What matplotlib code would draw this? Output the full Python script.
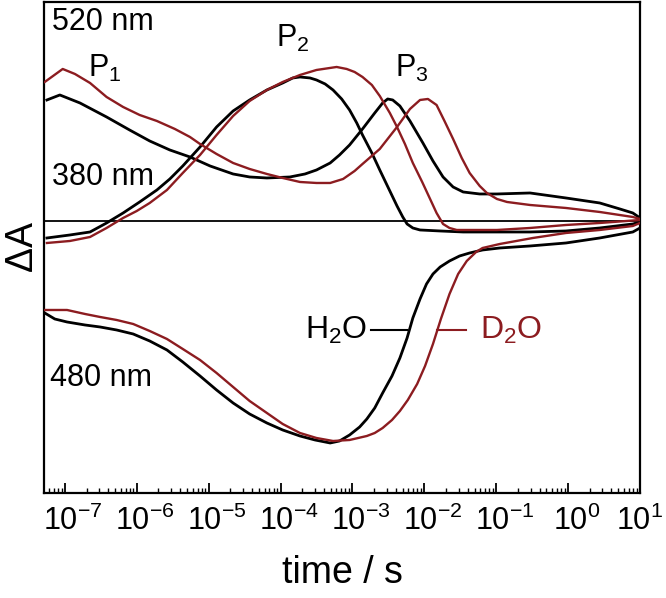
import numpy as np
import matplotlib.pyplot as plt
from matplotlib.ticker import FixedLocator, FixedFormatter, NullFormatter
from matplotlib.transforms import ScaledTranslation

plt.rcParams['font.family'] = ['Liberation Sans', 'DejaVu Sans']
plt.rcParams['mathtext.fontset'] = 'custom'
plt.rcParams['mathtext.rm'] = 'Liberation Sans'
plt.rcParams['mathtext.it'] = 'Liberation Sans:italic'
plt.rcParams['mathtext.default'] = 'regular'

RED = '#8c1c20'

# transients: log10(time / s) and dA (arb. units)
# 520 nm
lt_520_h2o = [-7.25, -7.07, -6.79, -6.42, -6.10, -5.82, -5.54, -5.26, -4.98, -4.66, -4.43,
              -4.19, -3.87, -3.66, -3.50, -3.31, -3.18, -3.04, -2.86, -2.69, -2.58, -2.51,
              -2.44, -2.34, -2.20, -2.02, -1.88, -1.74, -1.60, -1.46, -1.23, -0.99, -0.53,
              -0.03, 0.44, 0.72, 0.90, 1.00]
da_520_h2o = [121, 126, 118, 104, 91, 80, 71, 64, 55, 47, 44, 43, 44, 47, 51, 58, 66, 76, 92,
              108, 118, 122, 121, 115, 100, 78, 60, 44, 34, 29, 27, 27, 28, 23, 18, 12, 8, 3]
lt_520_d2o = [-7.28, -7.03, -6.86, -6.65, -6.42, -6.19, -5.96, -5.72, -5.47, -5.26, -5.12,
              -4.89, -4.66, -4.43, -4.19, -3.97, -3.73, -3.50, -3.31, -3.13, -2.97, -2.86,
              -2.62, -2.38, -2.20, -2.06, -1.95, -1.83, -1.72, -1.60, -1.48, -1.37, -1.23,
              -1.13, -0.99, -0.85, -0.53, -0.03, 0.44, 0.90, 1.00]
da_520_d2o = [139, 152, 147, 138, 124, 114, 106, 100, 92, 84, 77, 67, 58, 52, 47, 43, 39, 38,
              38, 42, 50, 57, 72, 94, 112, 121, 122, 116, 100, 82, 63, 48, 35, 28, 22, 19,
              16, 13, 9, 4, 2]

# 380 nm
lt_380_h2o = [-7.25, -6.93, -6.65, -6.42, -6.19, -5.96, -5.72, -5.54, -5.36, -5.12, -4.89,
              -4.66, -4.43, -4.19, -3.97, -3.83, -3.73, -3.59, -3.50, -3.38, -3.27, -3.15,
              -3.04, -2.94, -2.86, -2.73, -2.62, -2.48, -2.38, -2.30, -2.24, -2.16, -2.06,
              -1.78, -1.46, -0.53, -0.03, 0.44, 0.90, 1.00]
da_380_h2o = [-17, -14, -11, -2, 8, 19, 31, 42, 55, 74, 94, 110, 121, 131, 138, 143, 144, 143,
              141, 137, 131, 122, 111, 98, 86, 68, 51, 30, 15, 4, -3, -7, -9, -10, -11, -11,
              -10, -7, -3, -1]
lt_380_d2o = [-7.25, -6.93, -6.65, -6.42, -6.19, -6.00, -5.82, -5.58, -5.36, -5.12, -4.89,
              -4.66, -4.43, -4.19, -3.97, -3.73, -3.50, -3.22, -3.08, -2.97, -2.86, -2.73,
              -2.62, -2.48, -2.38, -2.27, -2.16, -2.03, -1.92, -1.83, -1.74, -1.65, -1.55,
              -0.99, -0.53, -0.03, 0.44, 1.00]
da_380_d2o = [-22, -20, -16, -7, 3, 10, 18, 31, 48, 66, 86, 105, 120, 131, 139, 146, 151, 154,
              152, 149, 144, 136, 125, 108, 94, 77, 58, 39, 22, 8, -3, -7, -9, -9, -7, -4,
              -2, 1]

# 480 nm
lt_480_h2o = [-7.28, -7.14, -6.97, -6.72, -6.51, -6.28, -6.05, -5.82, -5.58, -5.36, -5.12,
              -4.89, -4.66, -4.43, -4.19, -3.97, -3.73, -3.52, -3.31, -3.18, -3.04, -2.90,
              -2.80, -2.69, -2.58, -2.45, -2.34, -2.24, -2.16, -2.06, -1.97, -1.88, -1.78,
              -1.65, -1.51, -1.37, -1.19, -0.95, -0.53, -0.03, 0.44, 0.90, 1.00]
da_480_h2o = [-92, -98, -101, -104, -106, -109, -113, -120, -129, -141, -155, -169, -182, -193,
              -202, -209, -215, -219, -222, -220, -214, -206, -198, -187, -172, -155, -137,
              -117, -97, -78, -63, -53, -46, -40, -35, -32, -29, -27, -25, -22, -17, -11, -7]
lt_480_d2o = [-7.28, -6.97, -6.72, -6.51, -6.28, -6.05, -5.82, -5.58, -5.36, -5.12, -4.89,
              -4.66, -4.43, -4.19, -3.97, -3.73, -3.50, -3.27, -3.04, -2.80, -2.69, -2.58,
              -2.45, -2.34, -2.23, -2.10, -1.99, -1.88, -1.77, -1.65, -1.53, -1.41, -1.28,
              -1.19, -0.95, -0.49, -0.03, 0.44, 0.90, 1.00]
da_480_d2o = [-89, -89, -93, -96, -99, -103, -110, -118, -128, -139, -152, -166, -180, -192,
              -203, -212, -217, -220, -219, -215, -212, -207, -199, -190, -179, -163, -145,
              -123, -98, -73, -53, -40, -31, -27, -23, -17, -12, -9, -5, -2]

tick_pos = [1e-7, 1e-6, 1e-5, 1e-4, 1e-3, 1e-2, 1e-1, 1e0, 1e1]
tick_lab = ['10$^{-7}$', '10$^{-6}$', '10$^{-5}$', '10$^{-4}$', '10$^{-3}$',
            '10$^{-2}$', '10$^{-1}$', '10$^{0}$', '10$^{1}$']
minor_pos = [m * 10.0 ** e for e in range(-8, 1) for m in range(2, 10)]

fig = plt.figure(figsize=(6.66, 5.98), dpi=100)
ax = fig.add_axes([0.0661, 0.1756, 0.8949, 0.8211])

ax.axhline(0, color='black', lw=1.3, zorder=1)

for lt, da in [(lt_520_h2o, da_520_h2o), (lt_380_h2o, da_380_h2o), (lt_480_h2o, da_480_h2o)]:
    ax.plot(10 ** np.array(lt), da, color='black', lw=2.0, zorder=2)
for lt, da in [(lt_520_d2o, da_520_d2o), (lt_380_d2o, da_380_d2o), (lt_480_d2o, da_480_d2o)]:
    ax.plot(10 ** np.array(lt), da, color=RED, lw=1.7, zorder=3)

ax.set_xscale('log')
ax.set_xlim(10 ** -7.29, 10)
ax.set_ylim(-272, 219)

ax.xaxis.set_major_locator(FixedLocator(tick_pos))
ax.xaxis.set_major_formatter(FixedFormatter(tick_lab))
ax.xaxis.set_minor_locator(FixedLocator(minor_pos))
ax.xaxis.set_minor_formatter(NullFormatter())
ax.tick_params(axis='x', which='major', direction='in', length=7, width=1.3,
               labelsize=22, pad=9, top=False)
ax.tick_params(axis='x', which='minor', direction='in', length=3.5, width=1.0, top=False)
ax.set_yticks([])
for sp in ax.spines.values():
    sp.set_linewidth(1.6)

# centre the "10" under each tick, as in the original (last one kept inside the figure)
labels = ax.get_xticklabels()
for i, lab in enumerate(labels):
    dx = 6 if i < len(labels) - 1 else 0
    lab.set_transform(lab.get_transform() + ScaledTranslation(dx / 72, 0, fig.dpi_scale_trans))

ax.set_xlabel('time / s', fontsize=27, labelpad=13)
ax.set_ylabel('$\\Delta$A', fontsize=27, labelpad=2)

fs = 22
ax.text(10 ** -7.18, 199, '520 nm', fontsize=fs, va='center', ha='left')
ax.text(10 ** -7.18, 44, '380 nm', fontsize=fs, va='center', ha='left')
ax.text(10 ** -7.21, -157, '480 nm', fontsize=fs, va='center', ha='left')
ax.text(10 ** -6.68, 153, 'P$_1$', fontsize=fs, va='center', ha='left')
ax.text(10 ** -4.07, 183, 'P$_2$', fontsize=fs, va='center', ha='left')
ax.text(10 ** -2.41, 153, 'P$_3$', fontsize=fs, va='center', ha='left')

ax.text(10 ** -2.79, -109, 'H$_2$O', fontsize=fs + 1, va='center', ha='right')
ax.plot([10 ** -2.74, 10 ** -2.24], [-109, -109], color='black', lw=1.5)
ax.text(10 ** -1.23, -109, 'D$_2$O', fontsize=fs + 1, va='center', ha='left', color=RED)
ax.plot([10 ** -1.83, 10 ** -1.42], [-109, -109], color=RED, lw=1.5)

fig.savefig('out.png', dpi=100)
